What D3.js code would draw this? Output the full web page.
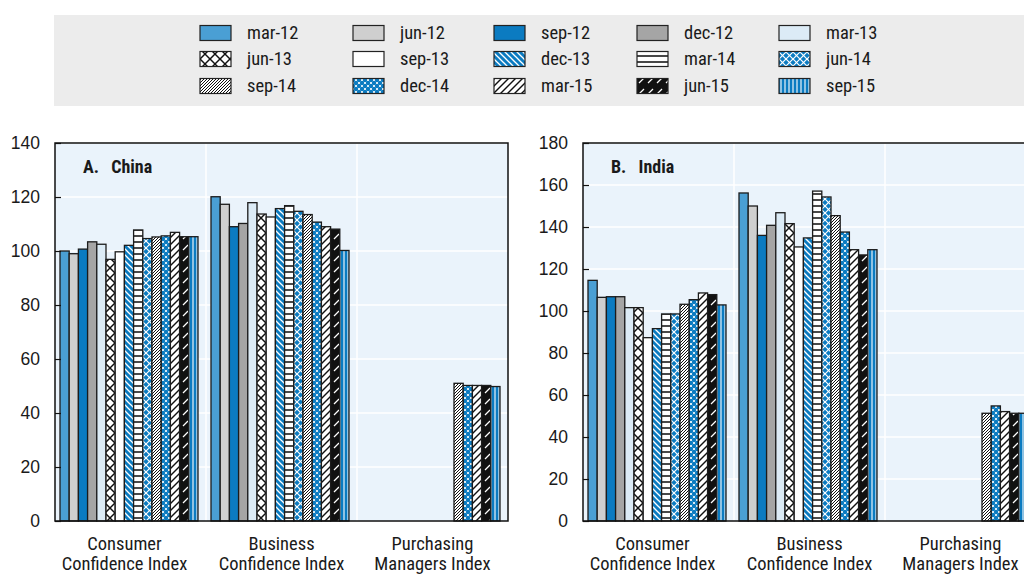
<!DOCTYPE html>
<html>
<head>
<meta charset="utf-8">
<script src="https://cdn.jsdelivr.net/npm/d3@7"></script>
<style>
  html, body { margin: 0; padding: 0; background: #ffffff; }
  svg { display: block; }
  text { font-family: "Liberation Sans Narrow", "Arial Narrow", "Roboto Condensed", sans-serif; font-stretch: condensed; fill: #1a1a1a; }
</style>
</head>
<body>
<svg id="chart" width="1024" height="575"></svg>
<script>
// Survey dates (one bar per date in every indicator group)
const series = ["mar-12", "jun-12", "sep-12", "dec-12", "mar-13",
                "jun-13", "sep-13", "dec-13", "mar-14", "jun-14",
                "sep-14", "dec-14", "mar-15", "jun-15", "sep-15"];

const categories = ["Consumer Confidence Index", "Business Confidence Index", "Purchasing Managers Index"];
const categoryLines = [["Consumer", "Confidence Index"], ["Business", "Confidence Index"], ["Purchasing", "Managers Index"]];

// China
const chinaConsumer = [100.0, 99.0, 100.7, 103.4, 102.5, 96.9, 99.7, 102.1, 107.8, 104.6, 105.2, 105.6, 106.9, 105.3, 105.3];
const chinaBusiness = [120.1, 117.3, 109.0, 110.2, 117.9, 113.7, 112.6, 115.7, 116.8, 114.7, 113.5, 110.7, 109.0, 108.1, 100.2];
const chinaPMI      = [null, null, null, null, null, null, null, null, null, null, 51.0, 50.2, 50.2, 50.2, 49.8];

// India
const indiaConsumer = [114.6, 106.5, 106.8, 106.8, 101.6, 101.6, 87.3, 91.6, 98.6, 98.6, 103.2, 105.4, 108.6, 107.8, 102.9];
const indiaBusiness = [156.2, 150.0, 136.0, 140.8, 146.8, 141.6, 130.5, 134.8, 157.1, 154.3, 145.4, 137.6, 129.2, 126.7, 129.2];
const indiaPMI      = [null, null, null, null, null, null, null, null, null, null, 51.3, 54.8, 52.1, 51.3, 51.3];

const chinaTicks = [0, 20, 40, 60, 80, 100, 120, 140];
const indiaTicks = [0, 20, 40, 60, 80, 100, 120, 140, 160, 180];

const BLUE = "#0b7bc1";
const svg = d3.select("#chart");
const defs = svg.append("defs");

// ---- fill patterns for each survey date ----
function pat(id, w, h, bg, draw) {
  const p = defs.append("pattern").attr("id", id)
    .attr("patternUnits", "userSpaceOnUse").attr("width", w).attr("height", h);
  p.append("rect").attr("width", w).attr("height", h).attr("fill", bg);
  draw(p);
}
function line(p, x1, y1, x2, y2, c, w) {
  p.append("line").attr("x1", x1).attr("y1", y1).attr("x2", x2).attr("y2", y2)
    .attr("stroke", c).attr("stroke-width", w);
}
// cross hatch, white
pat("p-jun13", 10, 10, "#ffffff", p => {
  line(p, 0, 0, 10, 10, "#111", 1.5); line(p, -1, 9, 1, 11, "#111", 1.5); line(p, 9, -1, 11, 1, "#111", 1.5);
  line(p, 0, 10, 10, 0, "#111", 1.5); line(p, -1, 1, 1, -1, "#111", 1.5); line(p, 9, 11, 11, 9, "#111", 1.5);
});
// blue with white back-diagonals
pat("p-dec13", 6, 6, BLUE, p => {
  line(p, 0, 0, 6, 6, "#fff", 1.3); line(p, -1, 5, 1, 7, "#fff", 1.3); line(p, 5, -1, 7, 1, "#fff", 1.3);
});
// horizontal stripes
pat("p-mar14", 6, 6, "#ffffff", p => { line(p, 0, 3, 6, 3, "#333", 1.8); });
// blue with white cross hatch
pat("p-jun14", 7, 7, BLUE, p => {
  line(p, 0, 0, 7, 7, "#fff", 1.2); line(p, 0, 7, 7, 0, "#fff", 1.2);
});
// dense forward diagonals
pat("p-sep14", 3, 3, "#ffffff", p => {
  line(p, 0, 3, 3, 0, "#111", 1.0); line(p, -1, 1, 1, -1, "#111", 1.0); line(p, 2, 4, 4, 2, "#111", 1.0);
});
// blue dots on white
pat("p-dec14", 6, 6, "#ffffff", p => {
  [[0, 0], [6, 0], [0, 6], [6, 6], [3, 3]].forEach(([cx, cy]) =>
    p.append("circle").attr("cx", cx).attr("cy", cy).attr("r", 2.2).attr("fill", BLUE));
});
// sparse forward diagonals
pat("p-mar15", 7, 7, "#ffffff", p => {
  line(p, 0, 7, 7, 0, "#111", 1.4); line(p, -1, 1, 1, -1, "#111", 1.4); line(p, 6, 8, 8, 6, "#111", 1.4);
});
// black with short white dashes
pat("p-jun15", 9, 11, "#111111", p => { line(p, 2, 8, 7, 3, "#fff", 1.3); });
// blue with white vertical lines
pat("p-sep15", 4, 4, BLUE, p => { line(p, 2, 0, 2, 4, "#fff", 1.1); });

const fills = {
  "mar-12": "#4a9fd4", "jun-12": "#cfcfcf", "sep-12": BLUE, "dec-12": "#a5a5a5", "mar-13": "#dcebf6",
  "jun-13": "url(#p-jun13)", "sep-13": "#ffffff", "dec-13": "url(#p-dec13)", "mar-14": "url(#p-mar14)",
  "jun-14": "url(#p-jun14)", "sep-14": "url(#p-sep14)", "dec-14": "url(#p-dec14)", "mar-15": "url(#p-mar15)",
  "jun-15": "url(#p-jun15)", "sep-15": "url(#p-sep15)"
};
const color = d3.scaleOrdinal().domain(series).range(series.map(s => fills[s]));

// ---- legend ----
const legend = svg.append("g");
legend.append("rect").attr("x", 54).attr("y", 15).attr("width", 970).attr("height", 91).attr("fill", "#ececec");
const legendColX = [200, 353, 494, 637, 779];
const legendRowY = [33, 59, 86];
series.forEach((s, i) => {
  const col = i % 5, row = Math.floor(i / 5);
  const g = legend.append("g").attr("transform", `translate(${legendColX[col]},${legendRowY[row]})`);
  g.append("rect").attr("x", 0).attr("y", -7.5).attr("width", 31).attr("height", 15)
    .attr("fill", color(s)).attr("stroke", "#222").attr("stroke-width", 1.2);
  g.append("text").attr("x", 47).attr("y", 0).attr("dy", "0.35em")
    .attr("font-size", 18.5).text(s);
});

// ---- panel ----
function panel(opts) {
  const { left, top, width, height, maxY, ticks, data, title } = opts;
  const g = svg.append("g").attr("transform", `translate(${left},${top})`);

  const y = d3.scaleLinear().domain([0, maxY]).range([height, 0]);
  const x0 = d3.scaleBand().domain(categories).range([0, width]);
  const x1 = d3.scaleBand().domain(series).range([5, x0.bandwidth() - 8]);

  g.append("rect").attr("width", width).attr("height", height).attr("fill", "#eaf3fb");

  // grid
  g.append("g").selectAll("line").data(ticks.slice(1)).join("line")
    .attr("x1", 0).attr("x2", width).attr("y1", d => y(d)).attr("y2", d => y(d))
    .attr("stroke", "#ffffff").attr("stroke-width", 1.5);
  g.append("g").selectAll("line").data(categories.slice(1)).join("line")
    .attr("x1", d => x0(d)).attr("x2", d => x0(d)).attr("y1", 0).attr("y2", height)
    .attr("stroke", "#ffffff").attr("stroke-width", 1.5);

  // bars
  const groups = g.append("g").selectAll("g").data(categories).join("g")
    .attr("transform", d => `translate(${x0(d)},0)`);
  groups.each(function (cat, ci) {
    const vals = data[ci].map((v, i) => ({ s: series[i], v })).filter(d => d.v != null);
    d3.select(this).selectAll("rect").data(vals).join("rect")
      .attr("x", d => x1(d.s)).attr("width", x1.bandwidth())
      .attr("y", d => y(d.v)).attr("height", d => y(0) - y(d.v))
      .attr("fill", d => color(d.s))
      .attr("stroke", "#1c1c1c").attr("stroke-width", 1.3);
  });

  // frame
  g.append("rect").attr("width", width).attr("height", height)
    .attr("fill", "none").attr("stroke", "#111").attr("stroke-width", 1.5);

  // y axis: inward ticks
  const yAxis = d3.axisLeft(y).tickValues(ticks).tickSize(-6).tickPadding(15).tickFormat(d3.format("d"));
  const ya = g.append("g").call(yAxis);
  ya.select(".domain").remove();
  ya.selectAll("line").attr("stroke", "#111").attr("stroke-width", 1.2);
  ya.selectAll("text").attr("font-size", 17.5).attr("fill", "#1a1a1a")
    .style("font-family", "'Liberation Sans Narrow','Arial Narrow',sans-serif");

  // category labels
  const xl = g.append("g").attr("transform", `translate(0,${height})`);
  categories.forEach((c, i) => {
    const cx = x0(c) + x0.bandwidth() / 2 - (i === 0 ? 6 : 0);
    const t = xl.append("text").attr("text-anchor", "middle").attr("font-size", 18.5).attr("x", cx);
    categoryLines[i].forEach((ln, k) =>
      t.append("tspan").attr("x", cx).attr("y", 29 + k * 20).text(ln));
  });

  g.append("text").attr("x", 28).attr("y", 24).attr("dy", "0.35em")
    .attr("font-size", 18).attr("font-weight", "bold").style("white-space", "pre")
    .text(title);
}

panel({
  left: 55, top: 143, width: 453, height: 378, maxY: 140, ticks: chinaTicks,
  data: [chinaConsumer, chinaBusiness, chinaPMI], title: "A.\u2002 China"
});
panel({
  left: 583, top: 143, width: 453, height: 378, maxY: 180, ticks: indiaTicks,
  data: [indiaConsumer, indiaBusiness, indiaPMI], title: "B.\u2002 India"
});
</script>
</body>
</html>
